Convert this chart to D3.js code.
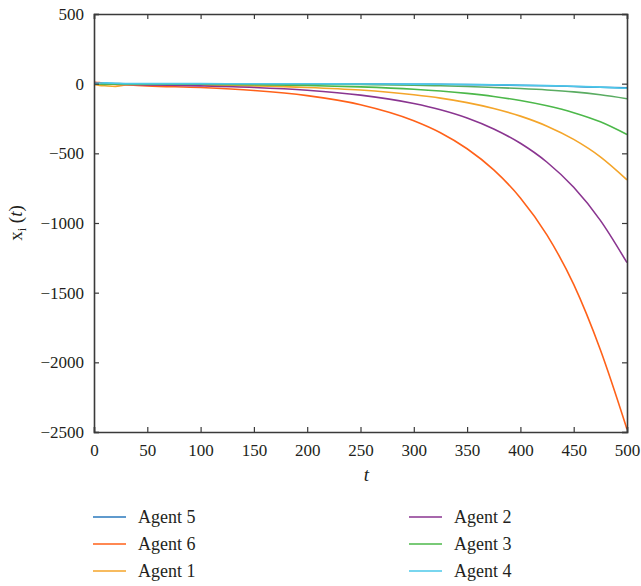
<!DOCTYPE html>
<html>
<head>
<meta charset="utf-8">
<script src="https://cdn.jsdelivr.net/npm/d3@7"></script>
<style>
  body { margin: 0; background: #fff; }
  svg { display: block; }
  svg text { font-family: "Liberation Serif", "Times New Roman", "DejaVu Serif", serif; fill: #231f20; }
</style>
</head>
<body>
<svg id="chart" width="641" height="586"></svg>
<script>
// ---- data ----
const tValues = [0, 5, 10, 20, 30, 50, 100, 150, 200, 250, 300, 325, 350, 375, 400, 425, 450, 475, 500];
const agent5 = [8, 6, 3, 0, -1, -1, -1, -1, -1.5, -2.5, -4, -5, -7, -9, -12, -15, -20, -26, -30];
const agent6 = [10, 8, 3, -5, -8, -16, -28, -49, -86, -151, -266, -352, -467, -619, -820, -1087, -1441, -1910, -2480];
const agent1 = [-8, -12, -15, -20, -10, -8, -10, -16, -27, -46, -80, -104, -136, -178, -233, -305, -400, -525, -690];
const agent2 = [5, 3, 0, -4, -6, -9, -16, -27, -47, -82, -142, -187, -246, -325, -428, -564, -744, -981, -1285];
const agent3 = [-2, -4, -5, -4, -3, -3, -4.5, -7.7, -13, -23, -40, -53, -70, -92, -121, -159, -208, -274, -365];
const agent4 = [2, 4, 6, 3, 0, 0, 0, -0.5, -1, -2, -3, -4, -6, -8, -11, -14, -18, -25, -33];
const extraLine = [-3, -2, -1, -1, -1, -1, -1, -2, -3.5, -6, -11, -15, -20, -27, -35, -45, -59, -80, -108];
const legendNames = ["Agent 5", "Agent 6", "Agent 1", "Agent 2", "Agent 3", "Agent 4"];
const xTicks = [0, 50, 100, 150, 200, 250, 300, 350, 400, 450, 500];
const yTicks = [500, 0, -500, -1000, -1500, -2000, -2500];

const series = [
  { name: "Agent 5", values: agent5, color: "#2a78bd", legend: true },
  { name: "Agent 6", values: agent6, color: "#ff6119", legend: true },
  { name: "Agent 1", values: agent1, color: "#f4a52a", legend: true },
  { name: "Agent 2", values: agent2, color: "#8a3590", legend: true },
  { name: "Agent 3", values: agent3, color: "#4cb84a", legend: true },
  { name: "extra",   values: extraLine, color: "#5aac62", legend: false },
  { name: "Agent 4", values: agent4, color: "#4cc8ea", legend: true }
];

// ---- layout ----
const FONT = "'Liberation Serif', 'Times New Roman', 'DejaVu Serif', serif";
const svg = d3.select("#chart").attr("font-family", FONT);
const mLeft = 94, mRight = 627, mTop = 14, mBottom = 432;
const x = d3.scaleLinear().domain([0, 500]).range([mLeft, mRight]);
const y = d3.scaleLinear().domain([-2500, 500]).range([mBottom, mTop]);
const axisColor = "#3a3a3a";
const fmt = d => d < 0 ? "\u2212" + Math.abs(d) : String(d);

// lines
const line = d3.line().x((d, i) => x(tValues[i])).y(d => y(d)).curve(d3.curveMonotoneX);
const plot = svg.append("g");
series.forEach(s => {
  plot.append("path").datum(s.values)
    .attr("d", line).attr("fill", "none")
    .attr("stroke", s.color).attr("stroke-width", 1.6);
});

// axes
const tickLen = 5;
const gx = svg.append("g").attr("transform", `translate(0,${mBottom})`)
  .call(d3.axisBottom(x).tickValues(xTicks).tickSize(-tickLen).tickPadding(12).tickFormat(fmt));
const gxTop = svg.append("g").attr("transform", `translate(0,${mTop})`)
  .call(d3.axisTop(x).tickValues(xTicks).tickSize(-tickLen).tickFormat(""));
const gy = svg.append("g").attr("transform", `translate(${mLeft},0)`)
  .call(d3.axisLeft(y).tickValues(yTicks).tickSize(-tickLen).tickPadding(10).tickFormat(fmt));
const gyRight = svg.append("g").attr("transform", `translate(${mRight},0)`)
  .call(d3.axisRight(y).tickValues(yTicks).tickSize(-tickLen).tickFormat(""));
[gx, gxTop, gy, gyRight].forEach(g => {
  g.attr("font-family", FONT).attr("font-size", 17);
  g.select(".domain").attr("stroke", axisColor).attr("stroke-width", 1.6);
  g.selectAll(".tick line").attr("stroke", axisColor).attr("stroke-width", 1.2);
  g.selectAll(".tick text").attr("fill", "#231f20");
});

// axis labels
svg.append("text").attr("x", (mLeft + mRight) / 2 + 6).attr("y", 481)
  .attr("text-anchor", "middle").attr("font-size", 19).attr("font-style", "italic").text("t");
const yl = svg.append("text").attr("transform", "translate(22,223) rotate(-90)")
  .attr("text-anchor", "middle").attr("font-size", 19);
yl.append("tspan").text("x");
yl.append("tspan").attr("font-size", 12).attr("dy", 4).text("i");
yl.append("tspan").attr("dy", -4).text(" (");
yl.append("tspan").attr("font-style", "italic").text("t");
yl.append("tspan").text(")");

// legend
const legendItems = series.filter(s => s.legend);
const order = legendNames.map(n => legendItems.find(s => s.name === n));
const colX = [93, 409], rowY = [517, 544, 571];
order.forEach((s, i) => {
  const cx = colX[Math.floor(i / 3)], cy = rowY[i % 3];
  svg.append("line").attr("x1", cx).attr("x2", cx + 33).attr("y1", cy).attr("y2", cy)
    .attr("stroke", s.color).attr("stroke-width", 1.6);
  svg.append("text").attr("x", cx + 45).attr("y", cy + 6).attr("font-size", 18).text(s.name);
});
</script>
</body>
</html>
